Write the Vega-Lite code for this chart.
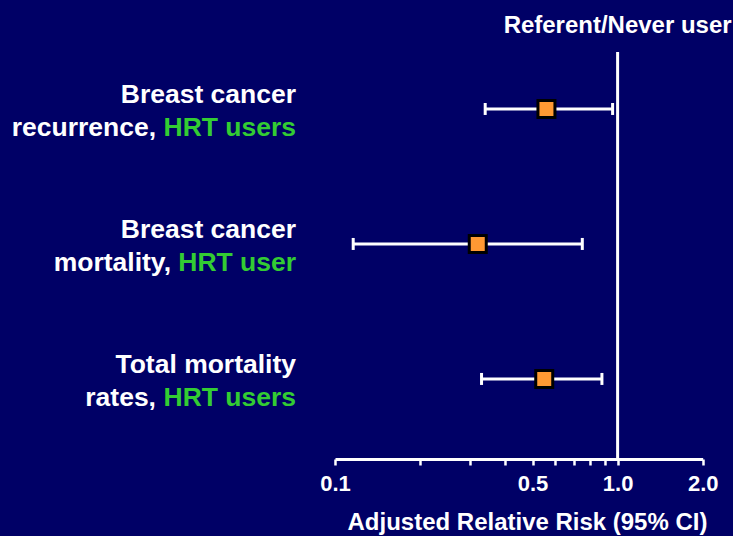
{
  "$schema": "https://vega.github.io/schema/vega-lite/v6.json",
  "width": 367.7,
  "height": 407,
  "autosize": {"type": "none"},
  "padding": {"left": 335, "top": 52, "right": 30, "bottom": 77},
  "background": "#000066",
  "config": {"view": {"stroke": null}, "font": "Liberation Sans"},
  "datasets": {
    "rr": [
      {"outcome": "Breast cancer recurrence, HRT users", "pos": 3, "rr": 0.56, "lo": 0.34, "hi": 0.96},
      {"outcome": "Breast cancer mortality, HRT user", "pos": 2, "rr": 0.32, "lo": 0.116, "hi": 0.75},
      {"outcome": "Total mortality rates, HRT users", "pos": 1, "rr": 0.55, "lo": 0.33, "hi": 0.88}
    ],
    "labels": [
      {"pos": 3, "line1": "Breast cancer", "white2": "recurrence,", "green2": "HRT users", "grp": "a"},
      {"pos": 2, "line1": "Breast cancer", "white2": "mortality,", "green2": "HRT user", "grp": "b"},
      {"pos": 1, "line1": "Total mortality", "white2": "rates,", "green2": "HRT users", "grp": "a"}
    ]
  },
  "layer": [
    {
      "data": {"values": [{"ref": 1}]},
      "mark": {"type": "rule", "color": "white", "strokeWidth": 3},
      "encoding": {
        "x": {
          "field": "ref",
          "type": "quantitative",
          "scale": {"type": "log", "domain": [0.1, 2], "nice": false, "zero": false},
          "axis": {
            "values": [0.1, 0.2, 0.3, 0.4, 0.5, 0.6, 0.7, 0.8, 0.9, 1, 2],
            "labelExpr": "indexof([0.1, 0.5, 1, 2], datum.value) >= 0 ? format(datum.value, '.1f') : ''",
            "labelColor": "white",
            "labelFontSize": 22,
            "labelFontWeight": "bold",
            "labelBaseline": "alphabetic",
            "labelPadding": 26,
            "labelFlush": false,
            "labelOverlap": false,
            "domainColor": "white",
            "domainWidth": 3,
            "tickColor": "white",
            "tickWidth": 2.5,
            "tickSize": 6,
            "grid": false,
            "title": "Adjusted Relative Risk (95% CI)",
            "titleColor": "white",
            "titleFontSize": 24,
            "titleFontWeight": "bold",
            "titleX": 192,
            "titleY": 71,
            "titleAlign": "center",
            "titleBaseline": "alphabetic"
          }
        }
      }
    },
    {
      "data": {"values": [{"ref": 1, "top": 3.422, "label": "Referent/Never user"}]},
      "mark": {"type": "text", "color": "white", "fontSize": 24, "fontWeight": "bold", "align": "center", "baseline": "alphabetic", "dy": -19},
      "encoding": {
        "x": {"field": "ref", "type": "quantitative"},
        "y": {"field": "top", "type": "quantitative", "scale": {"domain": [0.407, 3.422], "nice": false, "zero": false}, "axis": null},
        "text": {"field": "label"}
      }
    },
    {
      "data": {"name": "rr"},
      "mark": {"type": "rule", "color": "white", "strokeWidth": 3},
      "encoding": {
        "x": {"field": "lo", "type": "quantitative"},
        "x2": {"field": "hi"},
        "y": {"field": "pos", "type": "quantitative"}
      }
    },
    {
      "data": {"name": "rr"},
      "transform": [{"fold": ["lo", "hi"], "as": ["end", "val"]}],
      "mark": {"type": "tick", "color": "white", "orient": "vertical", "size": 12, "thickness": 3, "opacity": 1},
      "encoding": {
        "x": {"field": "val", "type": "quantitative"},
        "y": {"field": "pos", "type": "quantitative"}
      }
    },
    {
      "data": {"name": "rr"},
      "mark": {"type": "square", "fill": "#FF9933", "stroke": "black", "strokeWidth": 3, "size": 289, "opacity": 1},
      "encoding": {
        "x": {"field": "rr", "type": "quantitative"},
        "y": {"field": "pos", "type": "quantitative"}
      }
    },
    {
      "data": {"name": "labels"},
      "mark": {"type": "text", "color": "white", "fontSize": 26.5, "fontWeight": "bold", "align": "right", "baseline": "alphabetic", "dx": -39, "dy": -6},
      "encoding": {
        "x": {"datum": 0.1, "type": "quantitative"},
        "y": {"field": "pos", "type": "quantitative"},
        "text": {"field": "line1"}
      }
    },
    {
      "data": {"name": "labels"},
      "mark": {"type": "text", "color": "#33CC33", "fontSize": 26.5, "fontWeight": "bold", "align": "right", "baseline": "alphabetic", "dx": -39, "dy": 27},
      "encoding": {
        "x": {"datum": 0.1, "type": "quantitative"},
        "y": {"field": "pos", "type": "quantitative"},
        "text": {"field": "green2"}
      }
    },
    {
      "data": {"name": "labels"},
      "transform": [{"filter": "datum.grp === 'a'"}],
      "mark": {"type": "text", "color": "white", "fontSize": 26.5, "fontWeight": "bold", "align": "right", "baseline": "alphabetic", "dx": -179, "dy": 27},
      "encoding": {
        "x": {"datum": 0.1, "type": "quantitative"},
        "y": {"field": "pos", "type": "quantitative"},
        "text": {"field": "white2"}
      }
    },
    {
      "data": {"name": "labels"},
      "transform": [{"filter": "datum.grp === 'b'"}],
      "mark": {"type": "text", "color": "white", "fontSize": 26.5, "fontWeight": "bold", "align": "right", "baseline": "alphabetic", "dx": -164, "dy": 27},
      "encoding": {
        "x": {"datum": 0.1, "type": "quantitative"},
        "y": {"field": "pos", "type": "quantitative"},
        "text": {"field": "white2"}
      }
    }
  ]
}
